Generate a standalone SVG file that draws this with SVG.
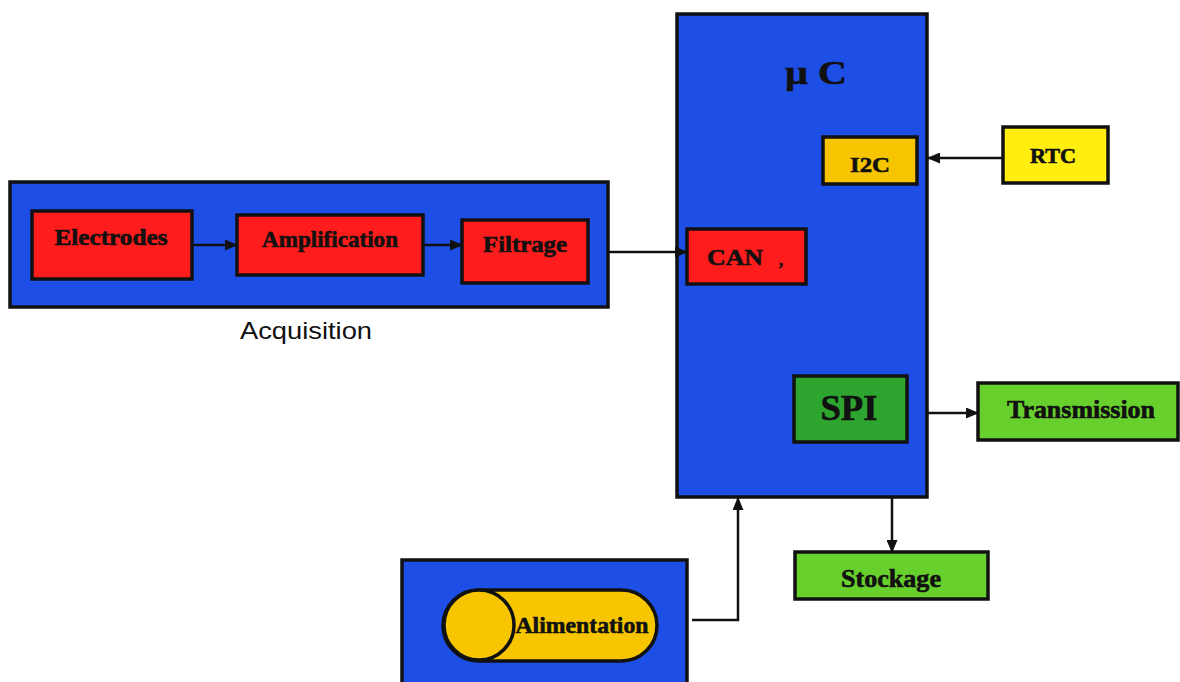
<svg xmlns="http://www.w3.org/2000/svg" width="1180" height="682" viewBox="0 0 1180 682">
  <defs>
    <marker id="arrow" viewBox="0 0 13 11" refX="12" refY="5.5" markerWidth="13" markerHeight="11" markerUnits="userSpaceOnUse" orient="auto">
      <path d="M0,0 L13,5.5 L0,11 Z" fill="#111"/>
    </marker>
  </defs>
  <style>
    .panel { fill: #1d4ee6; stroke: #111; stroke-width: 3.5; }
    .red { fill: #ff1c1c; stroke: #111; stroke-width: 3.5; }
    .amber { fill: #f6c500; stroke: #111; stroke-width: 3.5; }
    .yellow { fill: #ffee10; stroke: #111; stroke-width: 3.5; }
    .dkgreen { fill: #2ea52e; stroke: #111; stroke-width: 3.5; }
    .ltgreen { fill: #68d02c; stroke: #111; stroke-width: 3.5; }
    .lbl { font-family: "Liberation Serif", "Times New Roman", serif; font-weight: bold; fill: #111; stroke: #111; stroke-width: 0.6; text-anchor: middle; }
    .cap { font-family: "Liberation Sans", Arial, sans-serif; fill: #111; text-anchor: middle; }
    .wire { fill: none; stroke: #111; stroke-width: 2.5; }
  </style>
  <rect width="1180" height="682" fill="#ffffff"/>

  <!-- acquisition chain -->
  <g id="acquisition">
    <rect class="panel" x="10" y="182" width="598" height="125"/>
    <text class="cap" x="306" y="339" font-size="24" textLength="132" lengthAdjust="spacingAndGlyphs">Acquisition</text>
  </g>
  <g id="electrodes">
    <rect class="red" x="32" y="211" width="160" height="68"/>
    <text class="lbl" x="111" y="245" font-size="23" textLength="113" lengthAdjust="spacingAndGlyphs">Electrodes</text>
  </g>
  <g id="amplification">
    <rect class="red" x="237" y="215" width="186" height="60"/>
    <text class="lbl" x="330" y="247" font-size="23" textLength="136" lengthAdjust="spacingAndGlyphs">Amplification</text>
  </g>
  <g id="filtrage">
    <rect class="red" x="462" y="220" width="126" height="63"/>
    <text class="lbl" x="525" y="252" font-size="23" textLength="84" lengthAdjust="spacingAndGlyphs">Filtrage</text>
  </g>

  <!-- microcontroller -->
  <g id="uc">
    <rect class="panel" x="677" y="14" width="250" height="483"/>
    <text class="lbl" x="816" y="84" font-size="34" textLength="62" lengthAdjust="spacingAndGlyphs">µ C</text>
  </g>
  <g id="i2c">
    <rect class="amber" x="823" y="137" width="94" height="47"/>
    <text class="lbl" x="870" y="172" font-size="22" textLength="40" lengthAdjust="spacingAndGlyphs">I2C</text>
  </g>
  <g id="can">
    <rect class="red" x="687" y="229" width="119" height="55"/>
    <text class="lbl" x="735" y="265" font-size="23" textLength="56" lengthAdjust="spacingAndGlyphs">CAN</text>
    <text class="lbl" x="781" y="266" font-size="16">,</text>
  </g>
  <g id="spi">
    <rect class="dkgreen" x="794" y="376" width="113" height="66"/>
    <text class="lbl" x="849" y="420" font-size="36" textLength="57" lengthAdjust="spacingAndGlyphs">SPI</text>
  </g>

  <!-- peripherals -->
  <g id="rtc">
    <rect class="yellow" x="1003" y="127" width="105" height="56"/>
    <text class="lbl" x="1053" y="163" font-size="20" textLength="46" lengthAdjust="spacingAndGlyphs">RTC</text>
  </g>
  <g id="transmission">
    <rect class="ltgreen" x="978" y="383" width="200" height="57"/>
    <text class="lbl" x="1081" y="418" font-size="25" textLength="148" lengthAdjust="spacingAndGlyphs">Transmission</text>
  </g>
  <g id="stockage">
    <rect class="ltgreen" x="795" y="552" width="193" height="47"/>
    <text class="lbl" x="891" y="587" font-size="25" textLength="100" lengthAdjust="spacingAndGlyphs">Stockage</text>
  </g>

  <!-- power supply -->
  <g id="alimentation">
    <rect class="panel" x="402" y="560" width="285" height="130"/>
    <rect x="443" y="590" width="214" height="71" rx="35.5" fill="#f7c600" stroke="#111" stroke-width="3.5"/>
    <circle cx="479" cy="625" r="35" fill="#f7c600" stroke="#111" stroke-width="3.5"/>
    <text class="lbl" x="582" y="633" font-size="23" textLength="133" lengthAdjust="spacingAndGlyphs">Alimentation</text>
  </g>

  <!-- connectors -->
  <g id="connectors">
    <line class="wire" x1="192" y1="245" x2="237" y2="245" marker-end="url(#arrow)"/>
    <line class="wire" x1="423" y1="245" x2="462" y2="245" marker-end="url(#arrow)"/>
    <line class="wire" x1="608" y1="252" x2="687" y2="252" marker-end="url(#arrow)"/>
    <line class="wire" x1="1003" y1="158" x2="928" y2="158" marker-end="url(#arrow)"/>
    <line class="wire" x1="927" y1="413" x2="978" y2="413" marker-end="url(#arrow)"/>
    <line class="wire" x1="892" y1="497" x2="892" y2="552" marker-end="url(#arrow)"/>
    <path class="wire" d="M692,620 H738 V498" marker-end="url(#arrow)"/>
  </g>
</svg>
